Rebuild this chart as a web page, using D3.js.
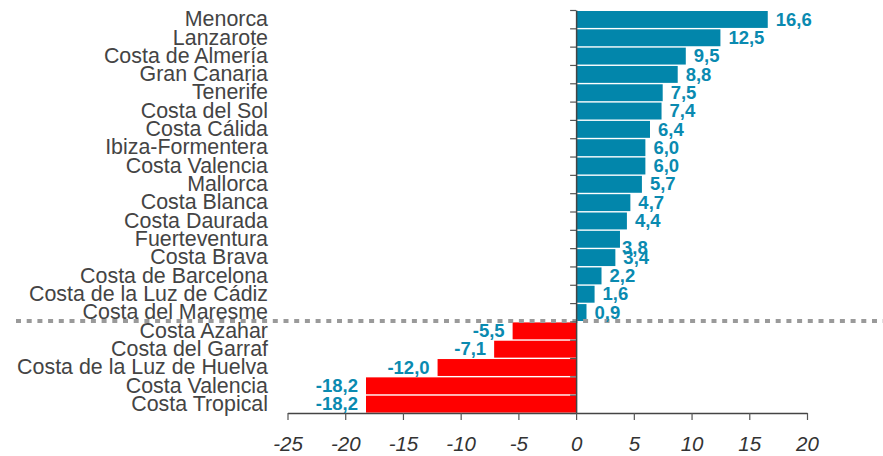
<!DOCTYPE html>
<html>
<head>
<meta charset="utf-8">
<script src="https://cdn.jsdelivr.net/npm/d3@7"></script>
<style>
  html, body { margin: 0; padding: 0; background: #fff; }
  svg { display: block; }
</style>
</head>
<body>
<div id="chart"></div>
<script>
(function () {
  // data
  const categories = [
    "Menorca", "Lanzarote", "Costa de Almería", "Gran Canaria", "Tenerife",
    "Costa del Sol", "Costa Cálida", "Ibiza-Formentera", "Costa Valencia",
    "Mallorca", "Costa Blanca", "Costa Daurada", "Fuerteventura", "Costa Brava",
    "Costa de Barcelona", "Costa de la Luz de Cádiz", "Costa del Maresme",
    "Costa Azahar", "Costa del Garraf", "Costa de la Luz de Huelva",
    "Costa Valencia", "Costa Tropical"
  ];
  const values = [
    16.6, 12.5, 9.5, 8.8, 7.5, 7.4, 6.4, 6.0, 6.0, 5.7, 4.7, 4.4, 3.8, 3.4,
    2.2, 1.6, 0.9, -5.5, -7.1, -12.0, -18.2, -18.2
  ];
  const xTicks = [-25, -20, -15, -10, -5, 0, 5, 10, 15, 20];

  const width = 883;
  const height = 456;
  const posColour = "#0286ab";
  const negColour = "#ff0000";
  const labelColour = "#0a8ab0";

  const data = categories.map((c, i) => ({ name: c, value: values[i], i }));

  const x = d3.scaleLinear().domain([-25, 20]).range([287.5, 807]);
  const y = d3.scaleLinear().domain([0, categories.length]).range([10, 413]);
  const step = y(1) - y(0);

  const svg = d3
    .select("#chart")
    .append("svg")
    .attr("width", width)
    .attr("height", height)
    .style("font-family", "'Liberation Sans', Arial, sans-serif");

  // Bars
  svg
    .selectAll("rect.bar")
    .data(data)
    .enter()
    .append("rect")
    .attr("class", "bar")
    .attr("x", (d) => x(Math.min(0, d.value)))
    .attr("y", (d) => y(d.i) + 1)
    .attr("width", (d) => Math.abs(x(d.value) - x(0)))
    .attr("height", step - 1.4)
    .attr("fill", (d) => (d.value < 0 ? negColour : posColour));

  // Separator between positive and negative groups
  const nPos = values.filter((v) => v >= 0).length;
  svg
    .append("line")
    .attr("x1", 16)
    .attr("x2", width)
    .attr("y1", y(nPos) - 0.5)
    .attr("y2", y(nPos) - 0.5)
    .attr("stroke", "#9a9a9a")
    .attr("stroke-width", 4)
    .attr("stroke-dasharray", "5 5.7");

  // Y axis (ticks at row boundaries)
  const yAxis = d3
    .axisLeft(y)
    .tickValues(d3.range(0, categories.length + 1))
    .tickSize(6)
    .tickSizeOuter(0)
    .tickFormat("");
  const gy = svg
    .append("g")
    .attr("transform", `translate(${x(0)},0)`)
    .call(yAxis);
  gy.select(".domain").attr("stroke", "#444").attr("stroke-width", 1.5);
  gy.selectAll(".tick line").attr("stroke", "#555").attr("stroke-width", 1.2);

  // X axis
  const xAxis = d3
    .axisBottom(x)
    .tickValues(xTicks)
    .tickSize(7)
    .tickSizeOuter(0)
    .tickPadding(16)
    .tickFormat(d3.format("d"));
  const gx = svg
    .append("g")
    .attr("transform", `translate(0,${y(categories.length)})`)
    .call(xAxis);
  gx.select(".domain").attr("stroke", "#444").attr("stroke-width", 1.5);
  gx.selectAll(".tick line").attr("stroke", "#555").attr("stroke-width", 1.2);
  gx.selectAll(".tick text")
    .attr("font-size", 20.5)
    .attr("font-style", "italic")
    .attr("font-family", "'Liberation Sans', Arial, sans-serif")
    .attr("fill", "#333")
    .text((d) => d3.format("d")(d).replace("−", "-"));

  // Category labels
  svg
    .selectAll("text.cat")
    .data(data)
    .enter()
    .append("text")
    .attr("class", "cat")
    .attr("x", 268)
    .attr("y", (d) => y(d.i) + step / 2)
    .attr("dy", "0.33em")
    .attr("text-anchor", "end")
    .attr("font-size", 21.4)
    .attr("fill", "#444")
    .text((d) => d.name);

  // Value labels (one label collided in the original and slipped)
  const nudged = { 12: [-6, 9] };
  const fmt = (v) => v.toFixed(1).replace(".", ",");
  svg
    .selectAll("text.val")
    .data(data)
    .enter()
    .append("text")
    .attr("class", "val")
    .attr("x", (d) => {
      const off = nudged[d.i] ? nudged[d.i][0] : 0;
      return d.value < 0 ? x(d.value) - 8 : x(d.value) + 8 + off;
    })
    .attr("y", (d) => y(d.i) + step / 2 + (nudged[d.i] ? nudged[d.i][1] : 0))
    .attr("dy", "0.35em")
    .attr("text-anchor", (d) => (d.value < 0 ? "end" : "start"))
    .attr("font-size", 18.5)
    .attr("font-weight", "bold")
    .attr("fill", labelColour)
    .text((d) => fmt(d.value));
})();
</script>
</body>
</html>
